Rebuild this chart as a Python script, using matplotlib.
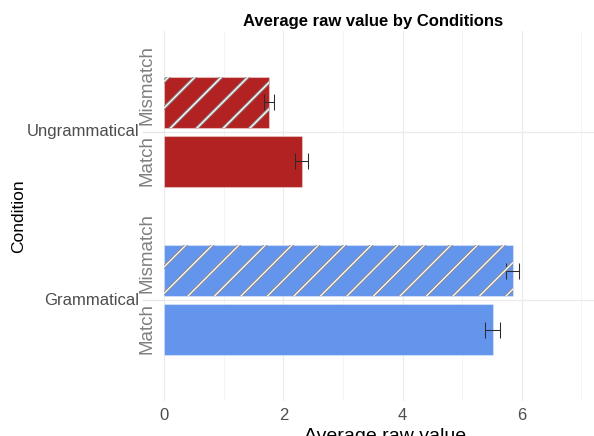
import matplotlib
matplotlib.use("Agg")
import matplotlib.pyplot as plt
import matplotlib.patheffects as pe
from matplotlib.lines import Line2D
import numpy as np

plt.rcParams['font.family'] = ['Liberation Sans', 'DejaVu Sans']

# data
groups = ["Grammatical", "Ungrammatical"]
match_mean = [5.51, 2.31]
match_se = [0.12, 0.11]
mismatch_mean = [5.85, 1.76]
mismatch_se = [0.11, 0.09]
group_colors = ["#6495ED", "#B22222"]

BAR_H = 0.30
OFFSET = 0.175
STRIPE_SPACING = 26.5  # px, horizontal distance between stripes
STRIPE_PHASE = 5.0

W, H = 594, 436
fig = plt.figure(figsize=(W / 100, H / 100), dpi=100)
ax = fig.add_axes([164.1 / W, 1 - 401 / H, 1 - 164.1 / W, (401 - 31) / H])
ax_w = W - 164.1

ypos = np.arange(1, len(groups) + 1)

ax.set_xlim(0, 7.21)
ax.set_ylim(0.4, len(groups) + 0.6)

# grid like theme_minimal
ax.set_xticks([0, 2, 4, 6])
ax.set_xticks([1, 3, 5, 7], minor=True)
ax.set_yticks(ypos)
ax.grid(True, which='major', color='#EBEBEB', linewidth=0.9)
ax.grid(True, which='minor', axis='x', color='#F3F3F3', linewidth=0.6)
ax.set_axisbelow(True)
for s in ax.spines.values():
    s.set_visible(False)
ax.tick_params(axis='both', which='both', length=0)
ax.tick_params(axis='x', labelsize=12, labelcolor='#4D4D4D', pad=5)
ax.set_yticklabels([])

bars_match = ax.barh(ypos - OFFSET, match_mean, height=BAR_H, color=group_colors,
                     edgecolor=(1, 1, 1, 0.35), linewidth=0.8, zorder=2)
bars_mis = ax.barh(ypos + OFFSET, mismatch_mean, height=BAR_H, color=group_colors,
                   edgecolor=(1, 1, 1, 0.35), linewidth=0.8, zorder=2)

ax.errorbar(match_mean, ypos - OFFSET, xerr=match_se, fmt='none', ecolor='#2B2B2B',
            elinewidth=0.75, capsize=6, capthick=0.75, zorder=4)
ax.errorbar(mismatch_mean, ypos + OFFSET, xerr=mismatch_se, fmt='none', ecolor='#2B2B2B',
            elinewidth=0.75, capsize=6, capthick=0.75, zorder=4)

# stripe pattern on the mismatch bars: lines y - x = const in pixel space, clipped to the bar
for bar in bars_mis:
    (x0, y0), (x1, y1) = ax.transData.transform([(bar.get_x(), bar.get_y()),
                                                  (bar.get_x() + bar.get_width(),
                                                   bar.get_y() + bar.get_height())])
    k_lo = int(np.floor((y0 - x1 - STRIPE_PHASE) / STRIPE_SPACING))
    k_hi = int(np.ceil((y1 - x0 - STRIPE_PHASE) / STRIPE_SPACING))
    for k in range(k_lo, k_hi + 1):
        c = STRIPE_PHASE + k * STRIPE_SPACING
        ln = Line2D([x0 - 5, x1 + 5], [x0 - 5 + c, x1 + 5 + c], transform=None,
                    color='white', linewidth=0.9, zorder=3,
                    path_effects=[pe.Stroke(linewidth=2.3, foreground='#8C8C8C'), pe.Normal()])
        ln.set_clip_path(bar)
        fig.add_artist(ln)

# nested y labels: inner labels start near the bottom edge of their bar
tr = ax.get_yaxis_transform()
for y, g in zip(ypos, groups):
    ax.text(-25 / ax_w, y, g, transform=tr, ha='right', va='center',
            fontsize=12, color='#4D4D4D')
    ax.text(-17.5 / ax_w, y + OFFSET - BAR_H / 2 + 0.015, "Mismatch", transform=tr,
            rotation=90, ha='center', va='bottom', fontsize=13.5, color='#808080')
    ax.text(-17.5 / ax_w, y - OFFSET - BAR_H / 2 + 0.006, "Match", transform=tr,
            rotation=90, ha='center', va='bottom', fontsize=13.5, color='#808080')
    ax.plot([-21 / ax_w, 0], [y, y], transform=tr, color='#E3E3E3', linewidth=0.9,
            clip_on=False)

fig.text(372.7 / W, 1 - 25.7 / H, "Average raw value by Conditions", ha='center',
         va='baseline', fontsize=12, fontweight='bold')
fig.text(385 / W, 1 - 441 / H, "Average raw value", ha='center', va='baseline',
         fontsize=14)
fig.text(18.5 / W, 1 - 216 / H, "Condition", rotation=90, ha='center', va='center',
         fontsize=12.5)

fig.savefig("out.png", dpi=100)
